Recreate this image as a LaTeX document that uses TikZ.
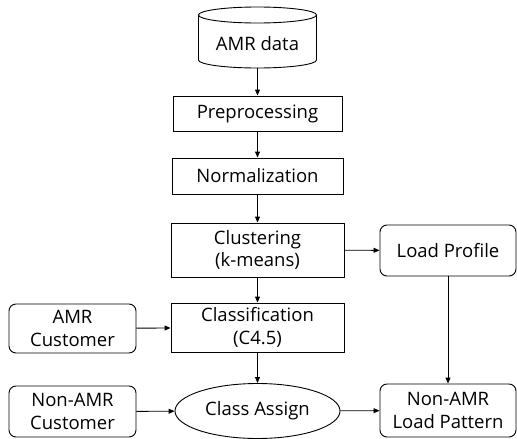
\documentclass[tikz,border=0pt]{standalone}
\usepackage{fontspec}
\setmainfont{Open Sans}
\usetikzlibrary{shapes.geometric,arrows.meta}
\begin{document}
\begin{tikzpicture}[x=1pt,y=-1pt,
  every node/.style={font=\fontsize{18.5}{22.5}\selectfont, align=center, inner sep=0pt},
  proc/.style={draw, line width=0.9pt, rectangle},
  rbox/.style={draw, line width=0.9pt, rectangle, rounded corners=7pt},
  oval/.style={draw, line width=0.9pt, ellipse},
  arr/.style={line width=0.9pt, -{Triangle[length=6pt,width=5pt]}}
]
\useasboundingbox (0,0) rectangle (517,439);
% cylinder
\node (amr) [minimum width=118pt, minimum height=61pt] at (257.5,37.5) {};
\draw[line width=0.9pt] (198.5,15) -- (198.5,60) arc[start angle=180,end angle=360,x radius=59pt,y radius=8pt] -- (316.5,15);
\draw[line width=0.9pt] (257.5,15) ellipse[x radius=59pt,y radius=8pt];
\node at (257.5,44) {AMR data};
\node (pre)  [proc, minimum width=169pt, minimum height=35pt] at (257.5,113.5) {Preprocessing};
\node (norm) [proc, minimum width=171pt, minimum height=36pt] at (257.5,176) {Normalization};
\node (clus) [proc, minimum width=173pt, minimum height=54pt] at (257.5,250) {Clustering\\(k-means)};
\node (lp)   [rbox, minimum width=136pt, minimum height=51pt] at (448,250.5) {Load Profile};
\node (cls)  [proc, minimum width=173pt, minimum height=49pt] at (257.5,327.5) {Classification\\(C4.5)};
\node (amrc) [rbox, minimum width=127pt, minimum height=49pt] at (72.5,328.5) {AMR\\Customer};
\node (nonc) [rbox, minimum width=127pt, minimum height=51pt] at (72.5,411.5) {Non-AMR\\Customer};
\node (ca)   [oval, minimum width=165pt, minimum height=55pt] at (257.5,411) {Class Assign};
\node (nlp)  [rbox, minimum width=136pt, minimum height=53pt] at (448,410.5) {Non-AMR\\Load Pattern};
\draw[arr] (amr.south) -- (pre.north);
\draw[arr] (pre) -- (norm);
\draw[arr] (norm) -- (clus);
\draw[arr] (clus) -- (lp);
\draw[arr] (clus) -- (cls);
\draw[arr] (amrc) -- (cls);
\draw[arr] (cls) -- (ca);
\draw[arr] (nonc) -- (ca);
\draw[arr] (ca) -- (nlp);
\draw[arr] (lp) -- (nlp);
\end{tikzpicture}
\end{document}
